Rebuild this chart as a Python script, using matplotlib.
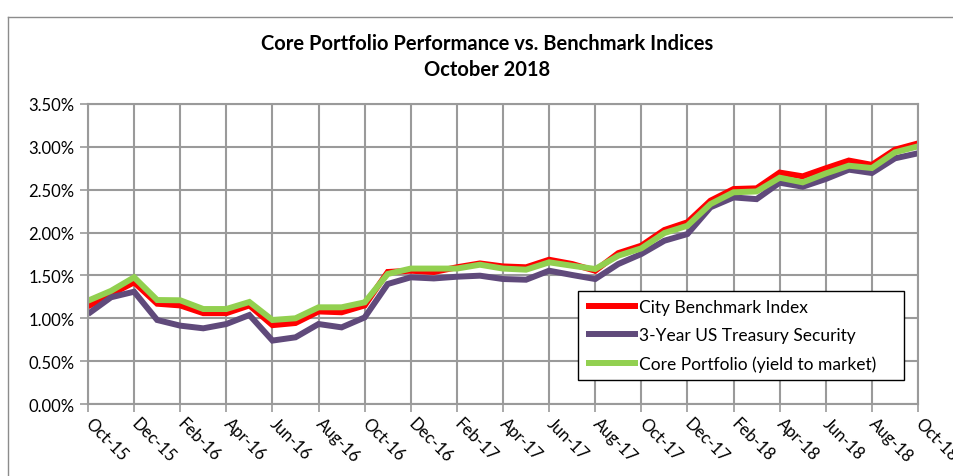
import numpy as np
import matplotlib
matplotlib.use("Agg")
import matplotlib.pyplot as plt
from matplotlib.lines import Line2D
from matplotlib.ticker import FuncFormatter

plt.rcParams['font.family'] = ['Lato', 'DejaVu Sans']

# monthly yields in percent, Oct-15 .. Oct-18
city_benchmark = [1.14, 1.28, 1.42, 1.17, 1.15, 1.06, 1.06, 1.15, 0.92, 0.945,
                  1.08, 1.07, 1.15, 1.54, 1.555, 1.54, 1.595, 1.64, 1.605, 1.595,
                  1.683, 1.633, 1.555, 1.76, 1.847, 2.03, 2.12, 2.372, 2.508, 2.516,
                  2.70, 2.656, 2.75, 2.84, 2.79, 2.967, 3.04]
treasury_3yr = [1.05, 1.245, 1.31, 0.98, 0.914, 0.883, 0.933, 1.038, 0.74, 0.778,
                0.933, 0.894, 1.01, 1.40, 1.478, 1.465, 1.485, 1.497, 1.458, 1.45,
                1.555, 1.505, 1.458, 1.633, 1.75, 1.905, 1.983, 2.295, 2.41, 2.39,
                2.582, 2.535, 2.625, 2.734, 2.695, 2.866, 2.925]
core_portfolio = [1.205, 1.32, 1.478, 1.213, 1.21, 1.108, 1.108, 1.19, 0.98, 1.0,
                  1.128, 1.128, 1.186, 1.517, 1.58, 1.58, 1.58, 1.625, 1.58, 1.567,
                  1.653, 1.613, 1.575, 1.73, 1.816, 1.995, 2.08, 2.333, 2.47, 2.48,
                  2.64, 2.586, 2.69, 2.78, 2.753, 2.936, 3.006]

month_labels = ['Oct-15', 'Dec-15', 'Feb-16', 'Apr-16', 'Jun-16', 'Aug-16', 'Oct-16',
                'Dec-16', 'Feb-17', 'Apr-17', 'Jun-17', 'Aug-17', 'Oct-17', 'Dec-17',
                'Feb-18', 'Apr-18', 'Jun-18', 'Aug-18', 'Oct-18']

series_names = ['City Benchmark Index', '3-Year US Treasury Security',
                'Core Portfolio (yield to market)']
series_colors = ['#FF0000', '#604A7B', '#92D050']

#--------------------------Plot------------------------------------------#
fig = plt.figure(figsize=(9.54, 4.77), dpi=100)
ax = fig.add_axes([88/954, 1-405/477, 830/954, 300/477])

x = np.arange(len(core_portfolio))
for y, name, col in zip([city_benchmark, treasury_3yr, core_portfolio],
                        series_names, series_colors):
    ax.plot(x, y, color=col, lw=4.3, label=name, solid_joinstyle='miter',
            solid_capstyle='butt')

ax.set_xlim(0, len(x) - 1)
ax.set_ylim(0, 3.5)
ax.set_yticks(np.arange(0, 3.51, 0.5))
ax.yaxis.set_major_formatter(FuncFormatter(lambda v, p: f"{v:.2f}%"))
ax.set_xticks(x[::2])
ax.set_xticklabels(month_labels, rotation=-45, ha='left', va='center',
                   rotation_mode='anchor')

grid_col = '#9a9a9a'
ax.grid(True, color=grid_col, lw=1.5)
ax.set_axisbelow(True)
for s in ax.spines.values():
    s.set_color(grid_col)
    s.set_linewidth(1.5)
ax.tick_params(axis='both', colors=grid_col, labelcolor='black', labelsize=12,
               length=6, width=1.2)
ax.tick_params(axis='x', pad=6)

leg = ax.legend(loc='lower left', bbox_to_anchor=(0.59, 0.08, 0.393, 0.297),
                mode='expand', fontsize=12.5, frameon=True, fancybox=False,
                handlelength=3.0, handletextpad=0.1, borderaxespad=0,
                labelspacing=0.72, borderpad=0.45)
leg.get_frame().set_edgecolor('black')
leg.get_frame().set_linewidth(1.0)
leg.get_frame().set_alpha(1)

fig.text(487/954, 1-44/477, 'Core Portfolio Performance vs. Benchmark Indices',
         ha='center', va='center', fontsize=14.5, fontweight='bold')
fig.text(487/954, 1-70/477, 'October 2018', ha='center', va='center',
         fontsize=14.5, fontweight='bold')

# outer chart frame
fig.add_artist(Line2D([8/954, 8/954], [0, 1-18/477], color='#8c8c8c', lw=1))
fig.add_artist(Line2D([8/954, 1], [1-18/477, 1-18/477], color='#8c8c8c', lw=1))

fig.savefig('out.png', dpi=100)
